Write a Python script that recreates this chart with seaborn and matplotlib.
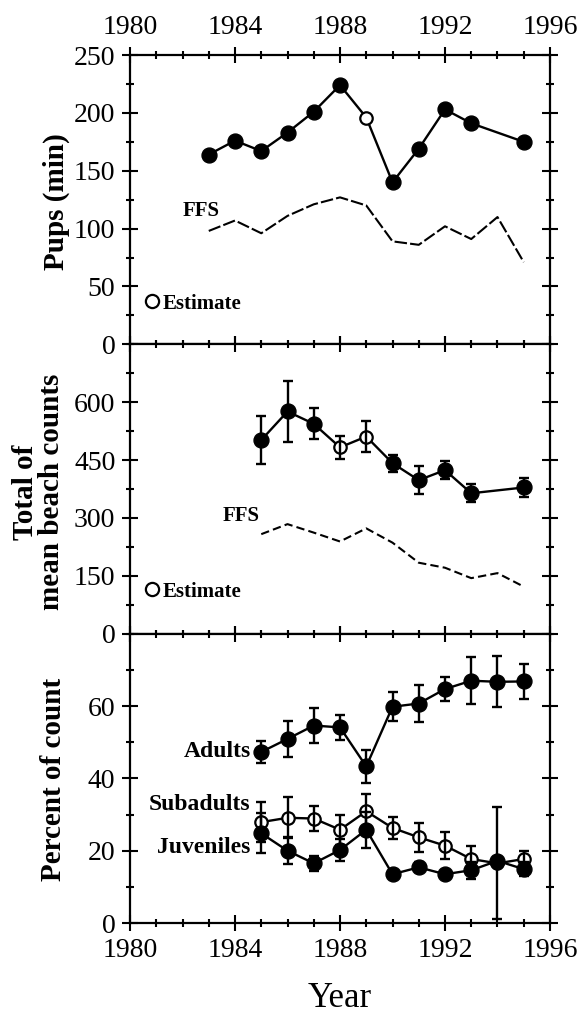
import numpy as np
import pandas as pd
import matplotlib
matplotlib.use("Agg")
import matplotlib.pyplot as plt
from matplotlib.lines import Line2D
from matplotlib.ticker import MultipleLocator
import seaborn as sns

# ---------------- data ----------------
pup_years = [1983, 1984, 1985, 1986, 1987, 1988, 1989, 1990, 1991, 1992, 1993, 1995]
pup_counts = [164, 176, 167, 183, 201, 224, 196, 140, 169, 203, 191, 175]
pup_estimate = [False, False, False, False, False, False, True, False, False, False, False, False]

ffs_pup_years = [1983, 1984, 1985, 1986, 1987, 1988, 1989, 1990, 1991, 1992, 1993, 1994, 1995]
ffs_pup_counts = [98, 107, 96, 111, 121, 127, 120, 89, 86, 102, 91, 110, 71]

beach_years = [1985, 1986, 1987, 1988, 1989, 1990, 1991, 1992, 1993, 1995]
beach_totals = [502, 576, 544, 483, 511, 442, 398, 424, 364, 379]
beach_err = [63, 80, 40, 30, 40, 22, 37, 23, 23, 25]
beach_estimate = [False, False, False, True, True, False, False, False, False, False]

ffs_beach_years = [1985, 1986, 1987, 1988, 1989, 1990, 1991, 1992, 1993, 1994, 1995]
ffs_beach_totals = [258, 284, 262, 239, 273, 236, 184, 171, 144, 157, 122]

pct_years = [1985, 1986, 1987, 1988, 1989, 1990, 1991, 1992, 1993, 1994, 1995]
adults = [47.3, 50.9, 54.6, 54.1, 43.3, 59.8, 60.7, 64.7, 67.0, 66.7, 66.8]
adults_err = [3.0, 4.9, 4.8, 3.5, 4.6, 4.0, 5.0, 3.2, 6.5, 7.0, 4.8]
subadults = [27.9, 29.1, 28.9, 25.8, 30.9, 26.3, 23.7, 21.4, 17.7, 16.5, 17.7]
subadults_err = [5.6, 5.7, 3.5, 4.2, 4.7, 3.0, 4.0, 3.8, 3.5, 15.5, 2.2]
juveniles = [24.8, 20.0, 16.5, 20.2, 25.8, 13.5, 15.4, 13.5, 14.6, 17.2, 14.9]
juveniles_err = [5.5, 3.7, 2.1, 3.1, 5.0, 0.4, 1.4, 0.8, 2.3, 1.0, 2.0]

x_ticks = [1980, 1984, 1988, 1992, 1996]

# ---------------- style ----------------
sns.set_theme(style="ticks")
plt.rcParams['font.family'] = ['Liberation Serif', 'DejaVu Serif']
plt.rcParams['axes.linewidth'] = 1.6
plt.rcParams['axes.labelcolor'] = 'black'
plt.rcParams['text.color'] = 'black'
plt.rcParams['xtick.color'] = 'black'
plt.rcParams['ytick.color'] = 'black'

fig, axes = plt.subplots(3, 1, figsize=(5.82, 10.15), dpi=100, sharex=True,
                         gridspec_kw=dict(hspace=0))
fig.subplots_adjust(left=0.2234, right=0.945, top=0.9458, bottom=0.0906)
ax1, ax2, ax3 = axes

LW = 1.7
MS_F = 115
MS_O = 80
EKW = dict(fmt='none', ecolor='black', elinewidth=1.7, capsize=3.5, capthick=1.7, zorder=3)


def points(ax, x, y, est=None, s_f=MS_F, s_o=MS_O):
    df = pd.DataFrame({'x': x, 'y': y})
    df['est'] = est if est is not None else [False] * len(x)
    sns.lineplot(data=df, x='x', y='y', ax=ax, color='black', lw=LW, zorder=2, legend=False)
    f = df[~df['est']]
    o = df[df['est']]
    if len(f):
        sns.scatterplot(data=f, x='x', y='y', ax=ax, color='black', s=s_f,
                        edgecolor='black', linewidth=1, zorder=4, legend=False)
    if len(o):
        sns.scatterplot(data=o, x='x', y='y', ax=ax, color='white', s=s_o,
                        edgecolor='black', linewidth=1.6, zorder=2.5, legend=False)


def dashed(ax, x, y, dashes):
    df = pd.DataFrame({'x': x, 'y': y})
    sns.lineplot(data=df, x='x', y='y', ax=ax, color='black', lw=1.5, legend=False, zorder=2)
    ax.lines[-1].set_dashes(dashes)


bold = dict(fontweight='bold', color='black')

# ---- panel 1: pups ----
points(ax1, pup_years, pup_counts, pup_estimate)
dashed(ax1, ffs_pup_years, ffs_pup_counts, (6, 1.5))
ax1.text(1982.69, 115, 'FFS', fontsize=15, ha='center', va='center', **bold)
ax1.set_ylim(0, 250)
ax1.set_yticks([0, 50, 100, 150, 200, 250])
ax1.yaxis.set_minor_locator(MultipleLocator(25))
ax1.set_ylabel('Pups (min)', fontsize=21, fontweight='bold', va='center', color='black')
ax1.yaxis.set_label_coords(-0.176, 0.493)

# ---- panel 2: beach counts ----
ax2.errorbar(beach_years, beach_totals, yerr=beach_err, **EKW)
points(ax2, beach_years, beach_totals, beach_estimate)
dashed(ax2, ffs_beach_years, ffs_beach_totals, (4, 2))
ax2.text(1984.25, 305, 'FFS', fontsize=15, ha='center', va='center', **bold)
ax2.set_ylim(0, 750)
ax2.set_yticks([0, 150, 300, 450, 600])
ax2.yaxis.set_minor_locator(MultipleLocator(75))
ax2.set_ylabel('Total of\nmean beach counts', fontsize=21, fontweight='bold',
               va='center', linespacing=0.95, color='black')
ax2.yaxis.set_label_coords(-0.217, 0.49)

# ---- panel 3: percent ----
ax3.errorbar(pct_years, adults, yerr=adults_err, **EKW)
ax3.errorbar(pct_years, subadults, yerr=subadults_err, **EKW)
ax3.errorbar(pct_years, juveniles, yerr=juveniles_err, **EKW)
points(ax3, pct_years, subadults, [True] * len(pct_years))
points(ax3, pct_years, adults)
points(ax3, pct_years, juveniles)
ax3.text(1984.6, 47.4, 'Adults', fontsize=17, ha='right', va='center', **bold)
ax3.text(1984.6, 32.7, 'Subadults', fontsize=17, ha='right', va='center', **bold)
ax3.text(1984.6, 21.0, 'Juveniles', fontsize=17, ha='right', va='center', **bold)
ax3.set_ylim(0, 80)
ax3.set_yticks([0, 20, 40, 60])
ax3.yaxis.set_minor_locator(MultipleLocator(10))
ax3.set_ylabel('Percent of count', fontsize=21, fontweight='bold', va='center', color='black')
ax3.yaxis.set_label_coords(-0.183, 0.498)

# Estimate keys
est_handle = Line2D([], [], marker='o', ls='none', mfc='white', mec='black', mew=1.6, ms=9.5)
for ax, yy in [(ax1, 0.141), (ax2, 0.145)]:
    ax.legend([est_handle], ['Estimate'], loc='center left', bbox_to_anchor=(0.035, yy),
              frameon=False, handlelength=0.7, handletextpad=0.15, borderpad=0,
              borderaxespad=0, prop=dict(family='Liberation Serif', weight='bold', size=15))

# ---- axes formatting ----
for ax in axes:
    ax.set_xlim(1980, 1996)
    ax.set_xticks(x_ticks)
    ax.xaxis.set_minor_locator(MultipleLocator(1))
    for s in ax.spines.values():
        s.set_visible(True)
        s.set_color('black')
        s.set_linewidth(1.6)
    ax.tick_params(which='both', direction='inout', top=True, right=True,
                   color='black', width=1.5, labelsize=20, labelcolor='black')
    ax.tick_params(which='major', length=11, pad=5)
    ax.tick_params(which='minor', length=6)
    ax.tick_params(axis='x', labelbottom=False, labeltop=False)
    ax.set_xlabel('')
    ax.set_facecolor('white')

ax1.tick_params(axis='x', labeltop=True)
ax3.tick_params(axis='x', labelbottom=True)
ax3.set_xlabel('Year', fontsize=25, va='center', color='black')
ax3.xaxis.set_label_coords(0.5, -0.262)

fig.savefig('out.png', dpi=100, facecolor='white')
